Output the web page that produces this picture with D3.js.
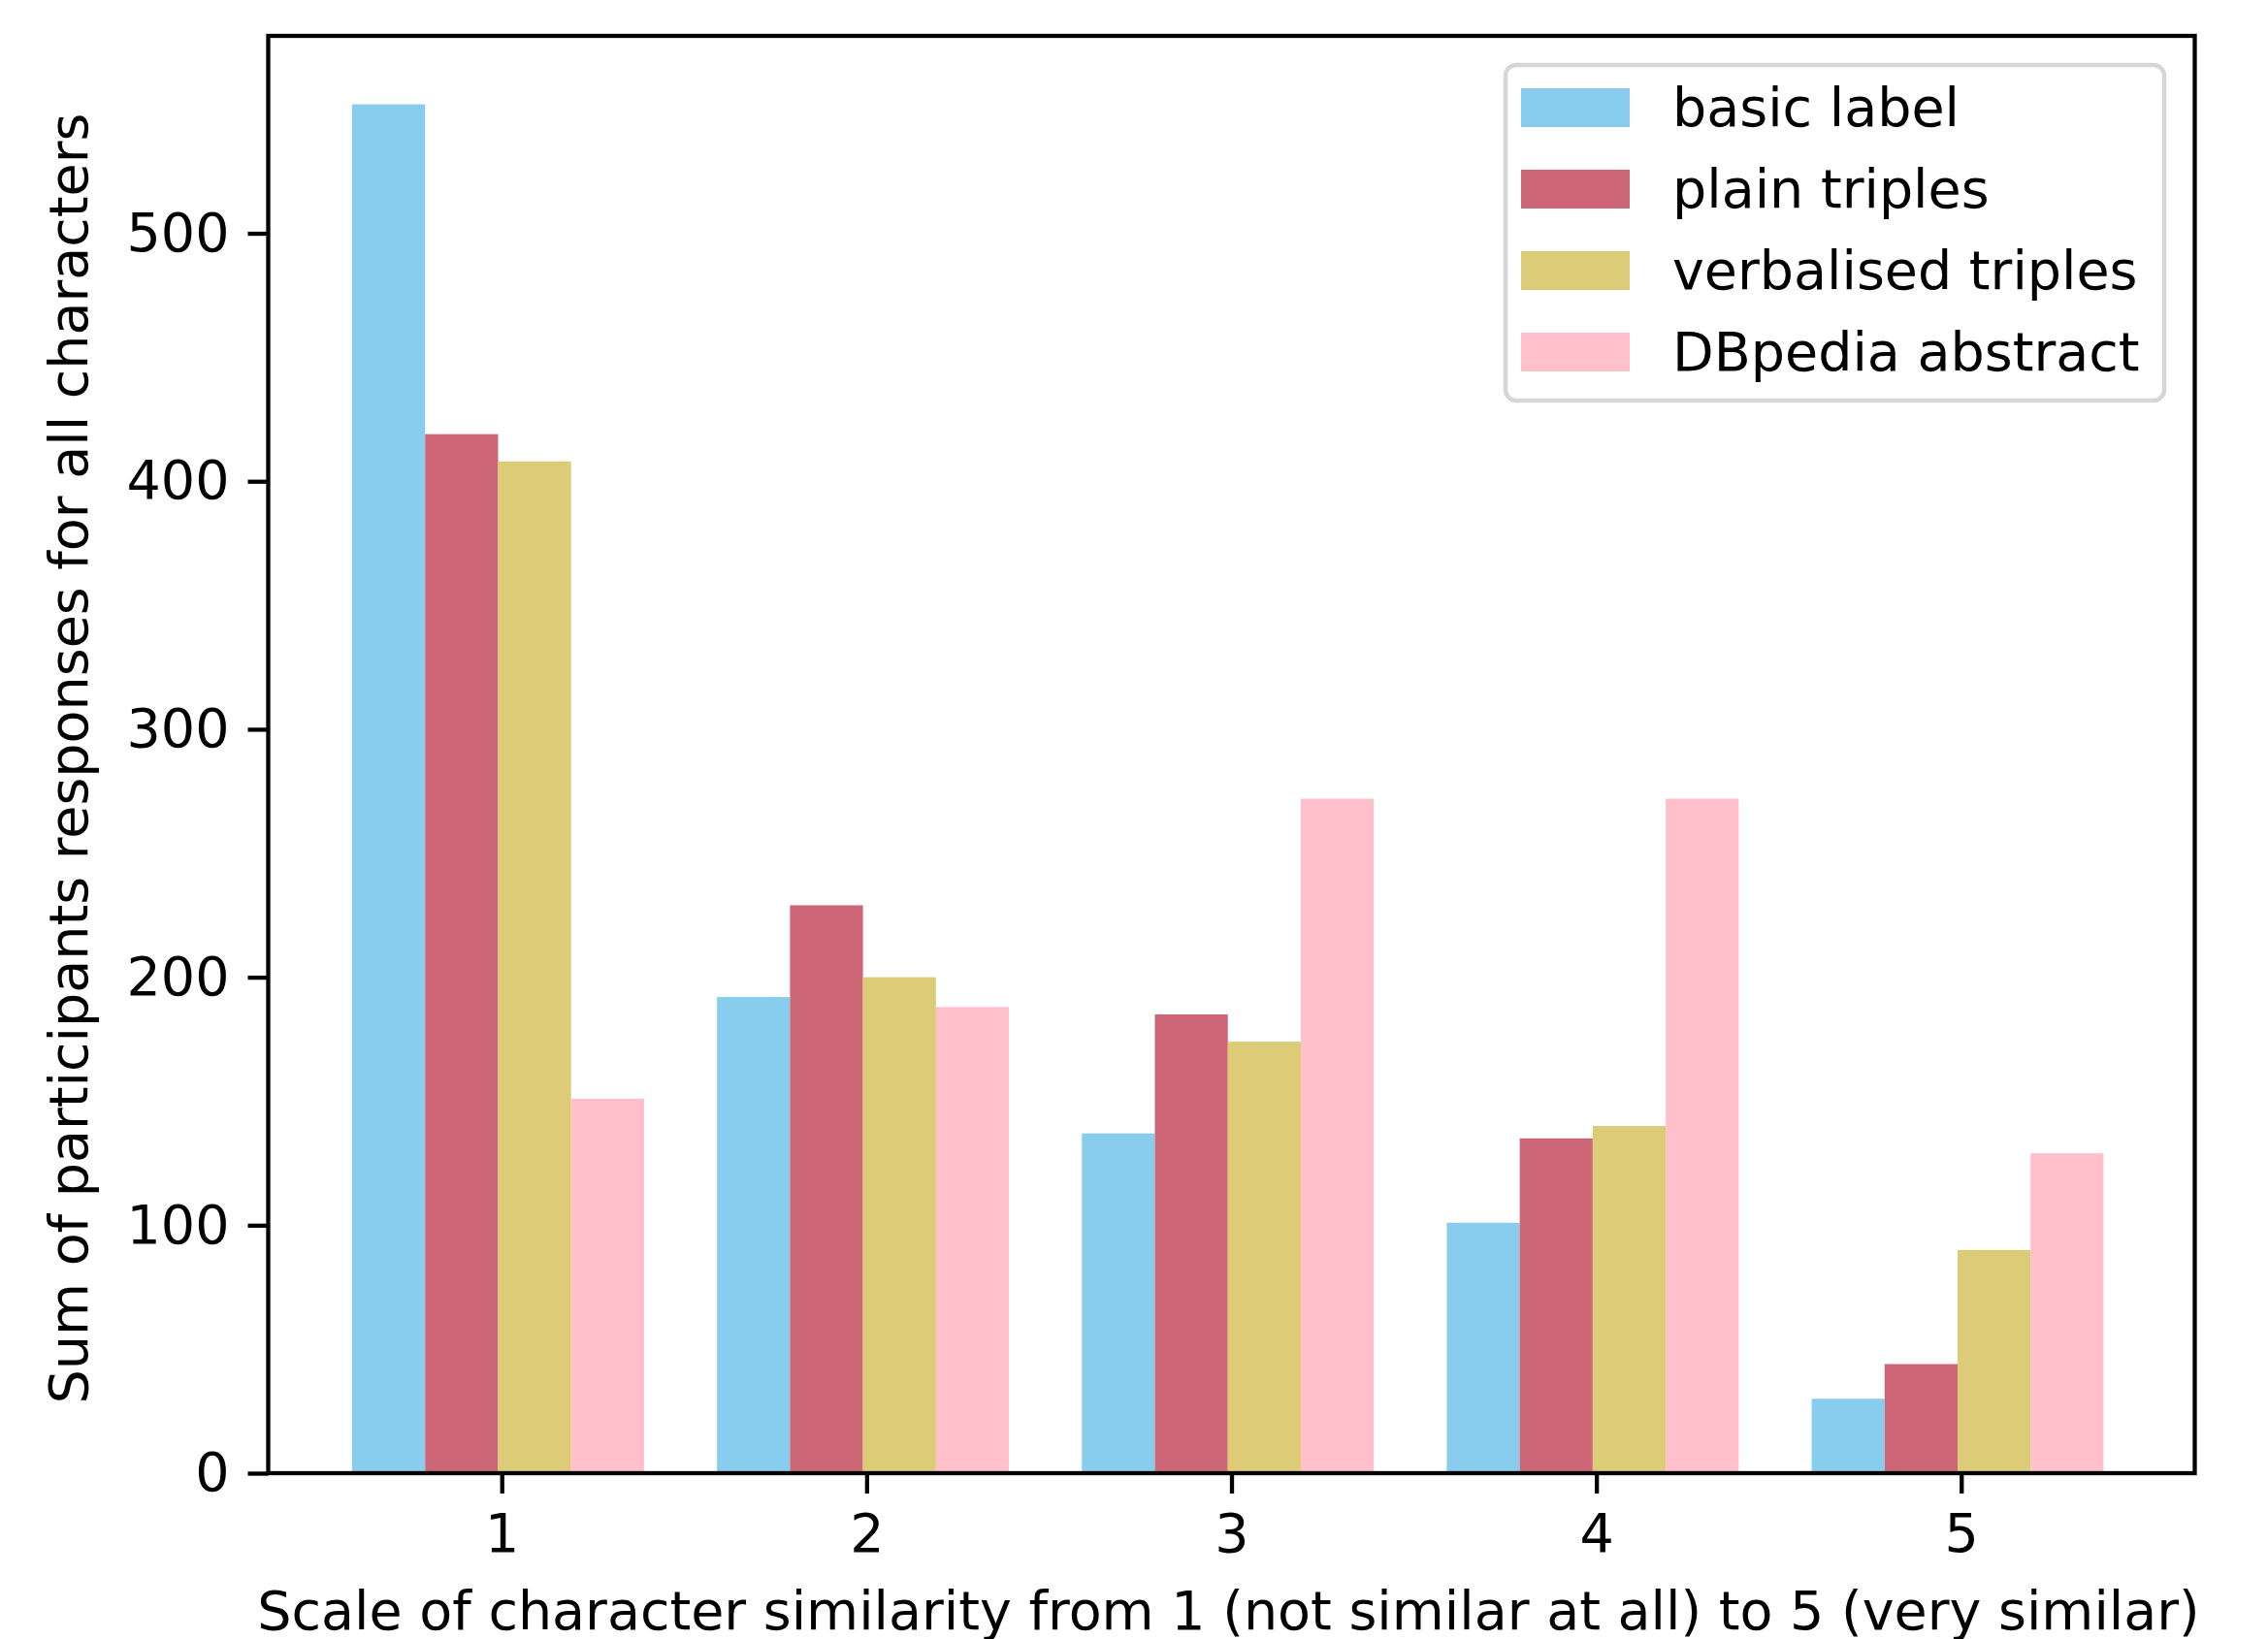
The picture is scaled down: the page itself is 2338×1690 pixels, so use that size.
<!DOCTYPE html>
<html lang="en">
<head>
<meta charset="UTF-8">
<title>Character similarity</title>
<script src="https://d3js.org/d3.v7.min.js"></script>
<style>
  body { margin: 0; background: #fff; }
  text { font-family: "DejaVu Sans", sans-serif; fill: #000; }
</style>
</head>
<body>
<svg width="2338" height="1690"></svg>
<script>
// similarity scale 1..5
const categories = [1, 2, 3, 4, 5];
const seriesNames = ["basic label", "plain triples", "verbalised triples", "DBpedia abstract"];
const seriesColors = ["#88CCEE", "#CC6677", "#DDCC77", "#FFC0CB"];

const basicLabel = [552, 192, 137, 101, 30];
const plainTriples = [419, 229, 185, 135, 44];
const verbalisedTriples = [408, 200, 174, 140, 90];
const dbpediaAbstract = [151, 188, 272, 272, 129];

const yTicks = [0, 100, 200, 300, 400, 500];

const seriesValues = [basicLabel, plainTriples, verbalisedTriples, dbpediaAbstract];

const fs = 55.5;
const plotL = 276.5, plotR = 2262.5, plotT = 37, plotB = 1519;
const barW = 0.2;
const groupShift = -0.01; // bars sit a hair left of the ticks in the original

const svg = d3.select("svg");

const yMax = d3.max(seriesValues.flat()) * 1.05;
const x = d3.scaleLinear().domain([0.36, 5.64]).range([plotL, plotR]);
const y = d3.scaleLinear().domain([0, yMax]).range([plotB, plotT]);

// bars
const bars = [];
seriesValues.forEach((vals, i) => {
  vals.forEach((v, j) => {
    bars.push({ s: i, cat: categories[j], v: v });
  });
});

svg.append("g")
  .selectAll("rect")
  .data(bars)
  .join("rect")
  .attr("x", d => x(d.cat + groupShift + (d.s - 2) * barW))
  .attr("width", d => x(barW) - x(0))
  .attr("y", d => y(d.v))
  .attr("height", d => y(0) - y(d.v))
  .attr("fill", d => seriesColors[d.s]);

// axes
const xAxis = d3.axisBottom(x)
  .tickValues(categories)
  .tickFormat(d3.format("d"))
  .tickSize(21)
  .tickPadding(21);

const yAxis = d3.axisLeft(y)
  .tickValues(yTicks)
  .tickSize(21)
  .tickPadding(19);

const gx = svg.append("g")
  .attr("transform", `translate(0,${plotB})`)
  .call(xAxis);
const gy = svg.append("g")
  .attr("transform", `translate(${plotL},0)`)
  .call(yAxis);

[gx, gy].forEach(g => {
  g.select(".domain").remove();
  g.selectAll(".tick line").attr("stroke", "#000").attr("stroke-width", 4.3);
  g.selectAll(".tick text")
    .attr("font-size", fs)
    .attr("font-family", "DejaVu Sans")
    .attr("fill", "#000");
});

// frame
svg.append("rect")
  .attr("x", plotL)
  .attr("y", plotT)
  .attr("width", plotR - plotL)
  .attr("height", plotB - plotT)
  .attr("fill", "none")
  .attr("stroke", "#000")
  .attr("stroke-width", 4.3);

// axis labels
svg.append("text")
  .attr("x", (plotL + plotR) / 2 - 3)
  .attr("y", 1680)
  .attr("text-anchor", "middle")
  .attr("font-size", fs)
  .text("Scale of character similarity from 1 (not similar at all) to 5 (very similar)");

svg.append("text")
  .attr("transform", `translate(90,782) rotate(-90)`)
  .attr("text-anchor", "middle")
  .attr("font-size", fs)
  .text("Sum of participants responses for all characters");

// legend
const legend = svg.append("g");
legend.append("rect")
  .attr("x", 1552)
  .attr("y", 67)
  .attr("width", 679)
  .attr("height", 346)
  .attr("rx", 11)
  .attr("fill", "#fff")
  .attr("fill-opacity", 0.8)
  .attr("stroke", "#d6d6d6")
  .attr("stroke-width", 4.5);

const item = legend.selectAll("g.item")
  .data(seriesNames)
  .join("g")
  .attr("class", "item")
  .attr("transform", (d, i) => `translate(1568,${91 + i * 84})`);

item.append("rect")
  .attr("width", 112)
  .attr("height", 40)
  .attr("fill", (d, i) => seriesColors[i]);

item.append("text")
  .attr("x", 156)
  .attr("y", 20)
  .attr("dy", "0.35em")
  .attr("font-size", fs)
  .text(d => d);
</script>
</body>
</html>
